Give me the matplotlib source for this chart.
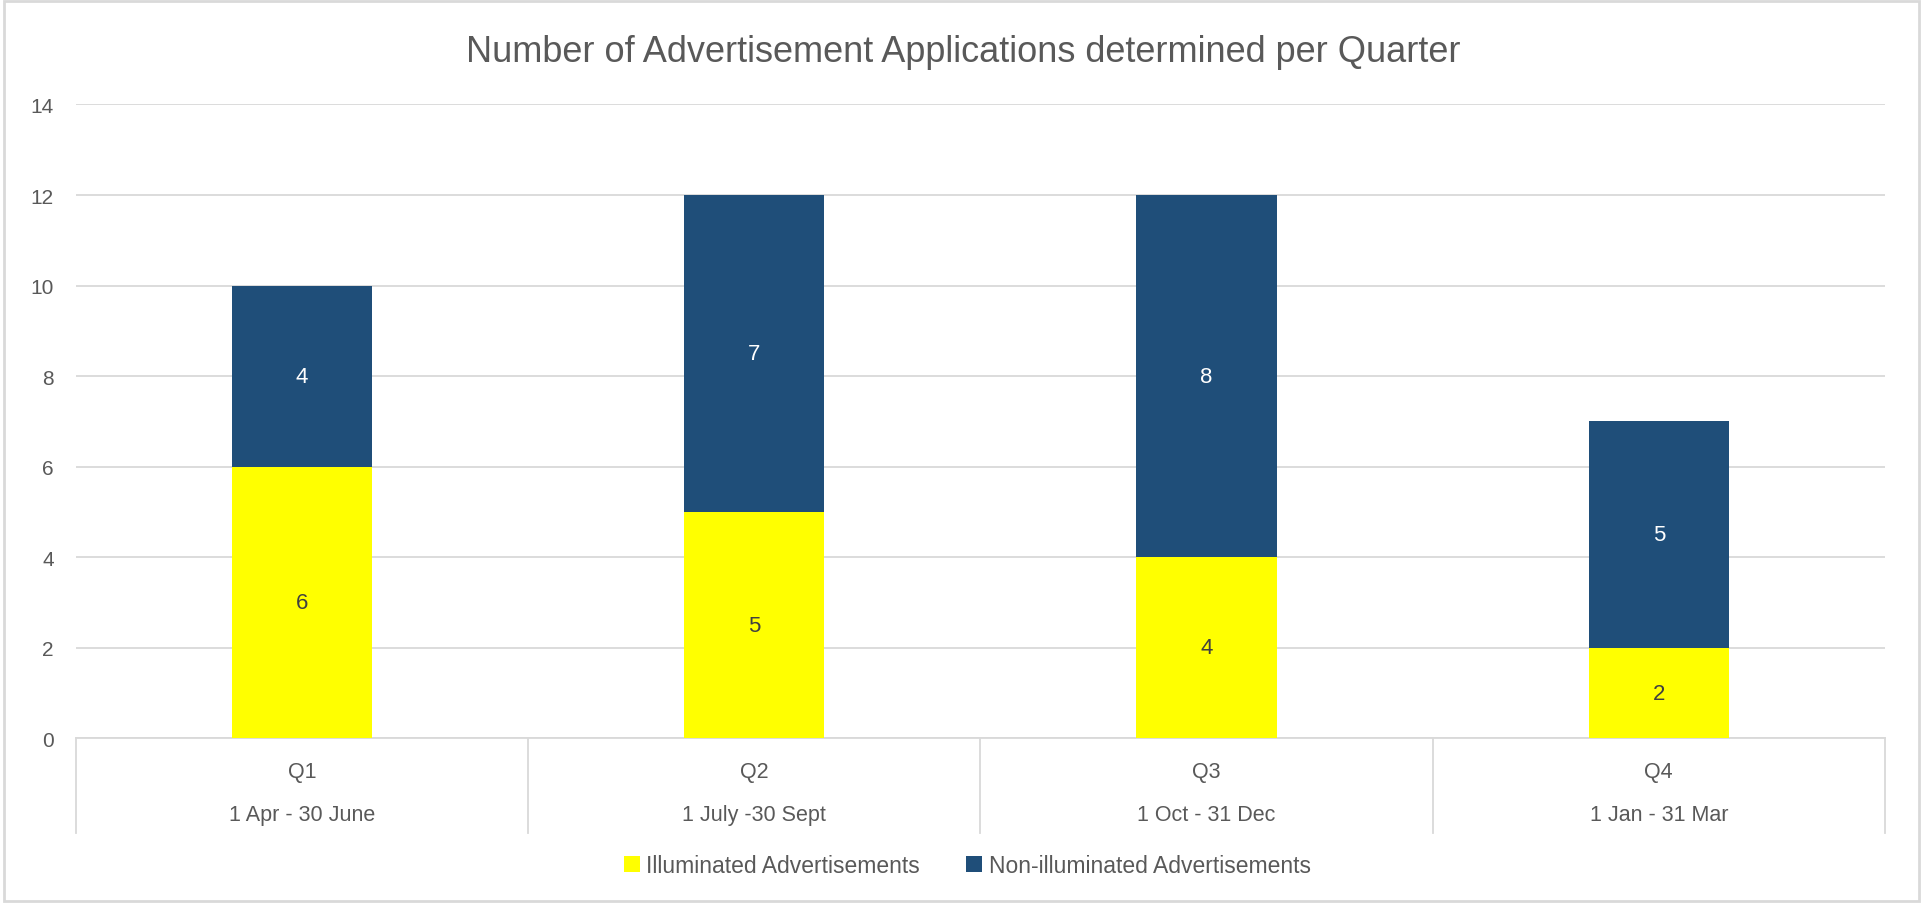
import matplotlib.pyplot as plt
import numpy as np

# Data
quarters = ['Q1', 'Q2', 'Q3', 'Q4']
periods = ['1 Apr - 30 June', '1 July -30 Sept', '1 Oct - 31 Dec', '1 Jan - 31 Mar']
illuminated = [6, 5, 4, 2]
non_illuminated = [4, 7, 8, 5]

yellow = '#FFFF00'
navy = '#1F4E79'
grey_text = '#595959'
grid_col = '#D9D9D9'
fonts = ['Liberation Sans Narrow', 'Liberation Sans', 'DejaVu Sans']
plt.rcParams['font.family'] = fonts

fig = plt.figure(figsize=(19.23, 9.04), dpi=100)
ax = fig.add_axes([0.0395, 0.182, 0.9407, 0.7013])

x = np.arange(len(quarters))
w = 0.31
b1 = ax.bar(x, illuminated, w, color=yellow, label='Illuminated Advertisements', zorder=3)
b2 = ax.bar(x, non_illuminated, w, bottom=illuminated, color=navy,
            label='Non-illuminated Advertisements', zorder=3)

# value labels in the middle of each segment
for i in range(len(x)):
    ax.text(x[i], illuminated[i] / 2, str(illuminated[i]), ha='center', va='center',
            fontsize=16, color='#404040', zorder=4)
    ax.text(x[i], illuminated[i] + non_illuminated[i] / 2, str(non_illuminated[i]),
            ha='center', va='center', fontsize=16, color='white', zorder=4)

ax.set_xlim(-0.5, 3.5)
ax.set_ylim(0, 14)
ax.set_yticks(range(0, 15, 2))
ax.tick_params(axis='y', length=0, pad=16, labelsize=15, labelcolor=grey_text)
ax.set_xticks([])
ax.yaxis.grid(True, color=grid_col, linewidth=1.3, zorder=0)
for s in ['top', 'right', 'left']:
    ax.spines[s].set_visible(False)
ax.spines['bottom'].set_color(grid_col)
ax.spines['bottom'].set_linewidth(1.3)

# multi-level category axis: separators and two rows of labels
trans = ax.get_xaxis_transform()
for xb in np.arange(-0.5, 4.0, 1.0):
    ax.plot([xb, xb], [0, -0.149], transform=trans, color=grid_col, lw=1.3, clip_on=False)
for i in range(len(x)):
    ax.text(x[i], -0.052, quarters[i], transform=trans, ha='center', va='center',
            fontsize=15.5, color=grey_text)
    ax.text(x[i], -0.12, periods[i], transform=trans, ha='center', va='center',
            fontsize=15.5, color=grey_text)

fig.text(0.501, 0.942, 'Number of Advertisement Applications determined per Quarter',
         ha='center', va='center', fontsize=26, color=grey_text)

fig.legend(handles=[b1, b2], loc='center', bbox_to_anchor=(0.503, 0.041), ncol=2,
           frameon=False, fontsize=16.5, labelcolor=grey_text, handlelength=0.7,
           handleheight=0.7, handletextpad=0.3, columnspacing=2.0)

# light border round the chart area
fig.patches.append(plt.Rectangle((0.002, 0.002), 0.996, 0.996, transform=fig.transFigure,
                                 fill=False, edgecolor=grid_col, lw=2))

fig.savefig('out.png', dpi=100)
